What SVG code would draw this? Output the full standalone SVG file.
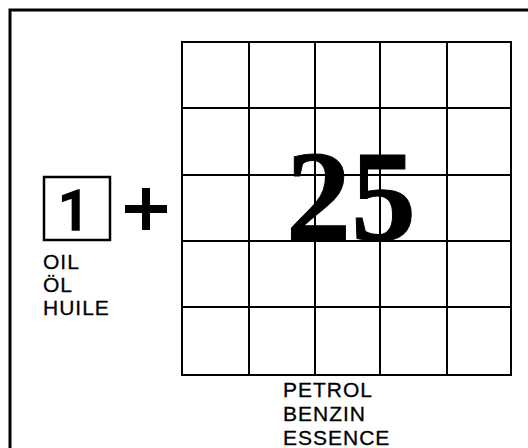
<svg xmlns="http://www.w3.org/2000/svg" width="528" height="448" viewBox="0 0 528 448">
<style>
.frame{stroke:#000;stroke-width:3;fill:none}
.grid{stroke:#000;stroke-width:2;fill:none}
.lbl{font-family:"Liberation Sans",Arial,sans-serif;font-size:21px;letter-spacing:1px;fill:#000;stroke:#000;stroke-width:0.3}
</style>
<rect width="528" height="448" fill="#fff"/>
<g id="frame">
<path class="frame" d="M10,448 V10 H528"/>
</g>
<g id="oil">
<rect x="44" y="177" width="66" height="63" fill="none" stroke="#000" stroke-width="2.5"/>
<text x="74" y="230" text-anchor="middle" font-family="Roboto,'Liberation Sans',sans-serif" font-weight="500" font-size="56" fill="#000" stroke="#000" stroke-width="1.5">1</text>
<text class="lbl" x="43" y="269">OIL</text>
<text class="lbl" x="43" y="292">ÖL</text>
<text class="lbl" x="43" y="315">HUILE</text>
</g>
<g id="plus">
<path d="M125,209 H167 M146,188 V230" stroke="#000" stroke-width="8" fill="none"/>
</g>
<g id="petrol">
<path class="grid" d="M182,42 H511 V375 H182 Z M249,42 V375 M315,42 V375 M380,42 V375 M447,42 V375 M182,108 H511 M182,175 H511 M182,241 H511 M182,307 H511"/>
<text x="351" y="240" text-anchor="middle" font-family="'Liberation Serif','Times New Roman',serif" font-weight="bold" font-size="130" fill="#000" stroke="#000" stroke-width="1">25</text>
<text class="lbl" x="283" y="397">PETROL</text>
<text class="lbl" x="283" y="421">BENZIN</text>
<text class="lbl" x="283" y="445">ESSENCE</text>
</g>
</svg>
